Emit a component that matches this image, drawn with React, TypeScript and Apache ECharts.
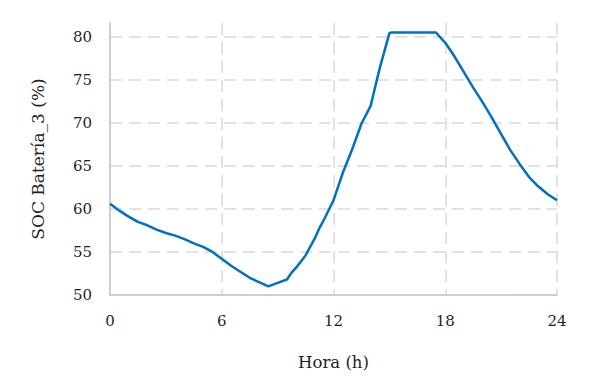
import React, { useEffect, useRef } from "react";
import * as echarts from "echarts";

const hours = [0, 0.5, 1, 1.5, 2, 2.5, 3, 3.5, 4, 4.5, 5, 5.5, 6, 6.5, 7, 7.5, 8, 8.5, 9, 9.5, 9.75, 10, 10.5, 11, 11.25, 11.5, 12, 12.5, 13, 13.5, 14, 14.25, 14.5, 15, 15.1, 17.5, 18, 18.5, 19, 19.5, 20, 20.5, 21, 21.5, 22, 22.5, 23, 23.5, 24];
const soc = [60.6, 59.8, 59.1, 58.5, 58.1, 57.6, 57.2, 56.9, 56.5, 56.0, 55.6, 55.0, 54.2, 53.4, 52.7, 52.0, 51.5, 51.0, 51.4, 51.8, 52.6, 53.2, 54.6, 56.6, 57.8, 58.8, 61.0, 64.2, 66.9, 69.9, 72.0, 74.3, 76.5, 80.4, 80.5, 80.5, 79.3, 77.7, 75.9, 74.1, 72.4, 70.6, 68.7, 66.8, 65.2, 63.7, 62.6, 61.7, 61.0];
const xTicks = [0, 6, 12, 18, 24];
const yTicks = [50, 55, 60, 65, 70, 75, 80];

const FONT = "DejaVu Serif";
const TEXT = "#1f1f1f";

export default function App() {
  const ref = useRef<HTMLDivElement>(null);
  useEffect(() => {
    if (!ref.current) return;
    const chart = echarts.init(ref.current, undefined, { renderer: "svg" });
    const dashed = { color: "#d9d9d9", width: 1.5, type: [12, 7] as any };
    chart.setOption({
      animation: false,
      textStyle: { fontFamily: FONT },
      grid: { left: 102, right: 28, top: 15, bottom: 83 },
      xAxis: {
        type: "value",
        min: xTicks[0],
        max: xTicks[xTicks.length - 1],
        interval: 6,
        name: "Hora (h)",
        nameLocation: "middle",
        nameGap: 59,
        nameTextStyle: { fontFamily: FONT, fontSize: 16.5, color: TEXT },
        axisLine: { show: true, lineStyle: { color: "#bfbfbf", width: 1.5 } },
        axisTick: { show: false },
        axisLabel: { fontFamily: FONT, fontSize: 15, color: TEXT, margin: 18 },
        splitLine: { show: true, showMinLine: false, lineStyle: dashed },
      },
      yAxis: {
        type: "value",
        min: yTicks[0],
        max: 81.6,
        interval: 5,
        name: "SOC Batería_3 (%)",
        nameLocation: "middle",
        nameGap: 64,
        nameTextStyle: { fontFamily: FONT, fontSize: 17, color: TEXT },
        axisLine: { show: true, lineStyle: { color: "#bfbfbf", width: 1.5 } },
        axisTick: { show: false },
        axisLabel: { fontFamily: FONT, fontSize: 15, color: TEXT, margin: 18, showMaxLabel: false },
        splitLine: { show: true, showMinLine: false, showMaxLine: false, lineStyle: dashed },
      },
      series: [
        {
          type: "line",
          data: hours.map((h, i) => [h, soc[i]]),
          showSymbol: false,
          lineStyle: { color: "#0070C0", width: 2.5 },
          itemStyle: { color: "#0070C0" },
        },
      ],
    });
    return () => chart.dispose();
  }, []);
  return <div ref={ref} style={{ width: 577, height: 370 }} />;
}
